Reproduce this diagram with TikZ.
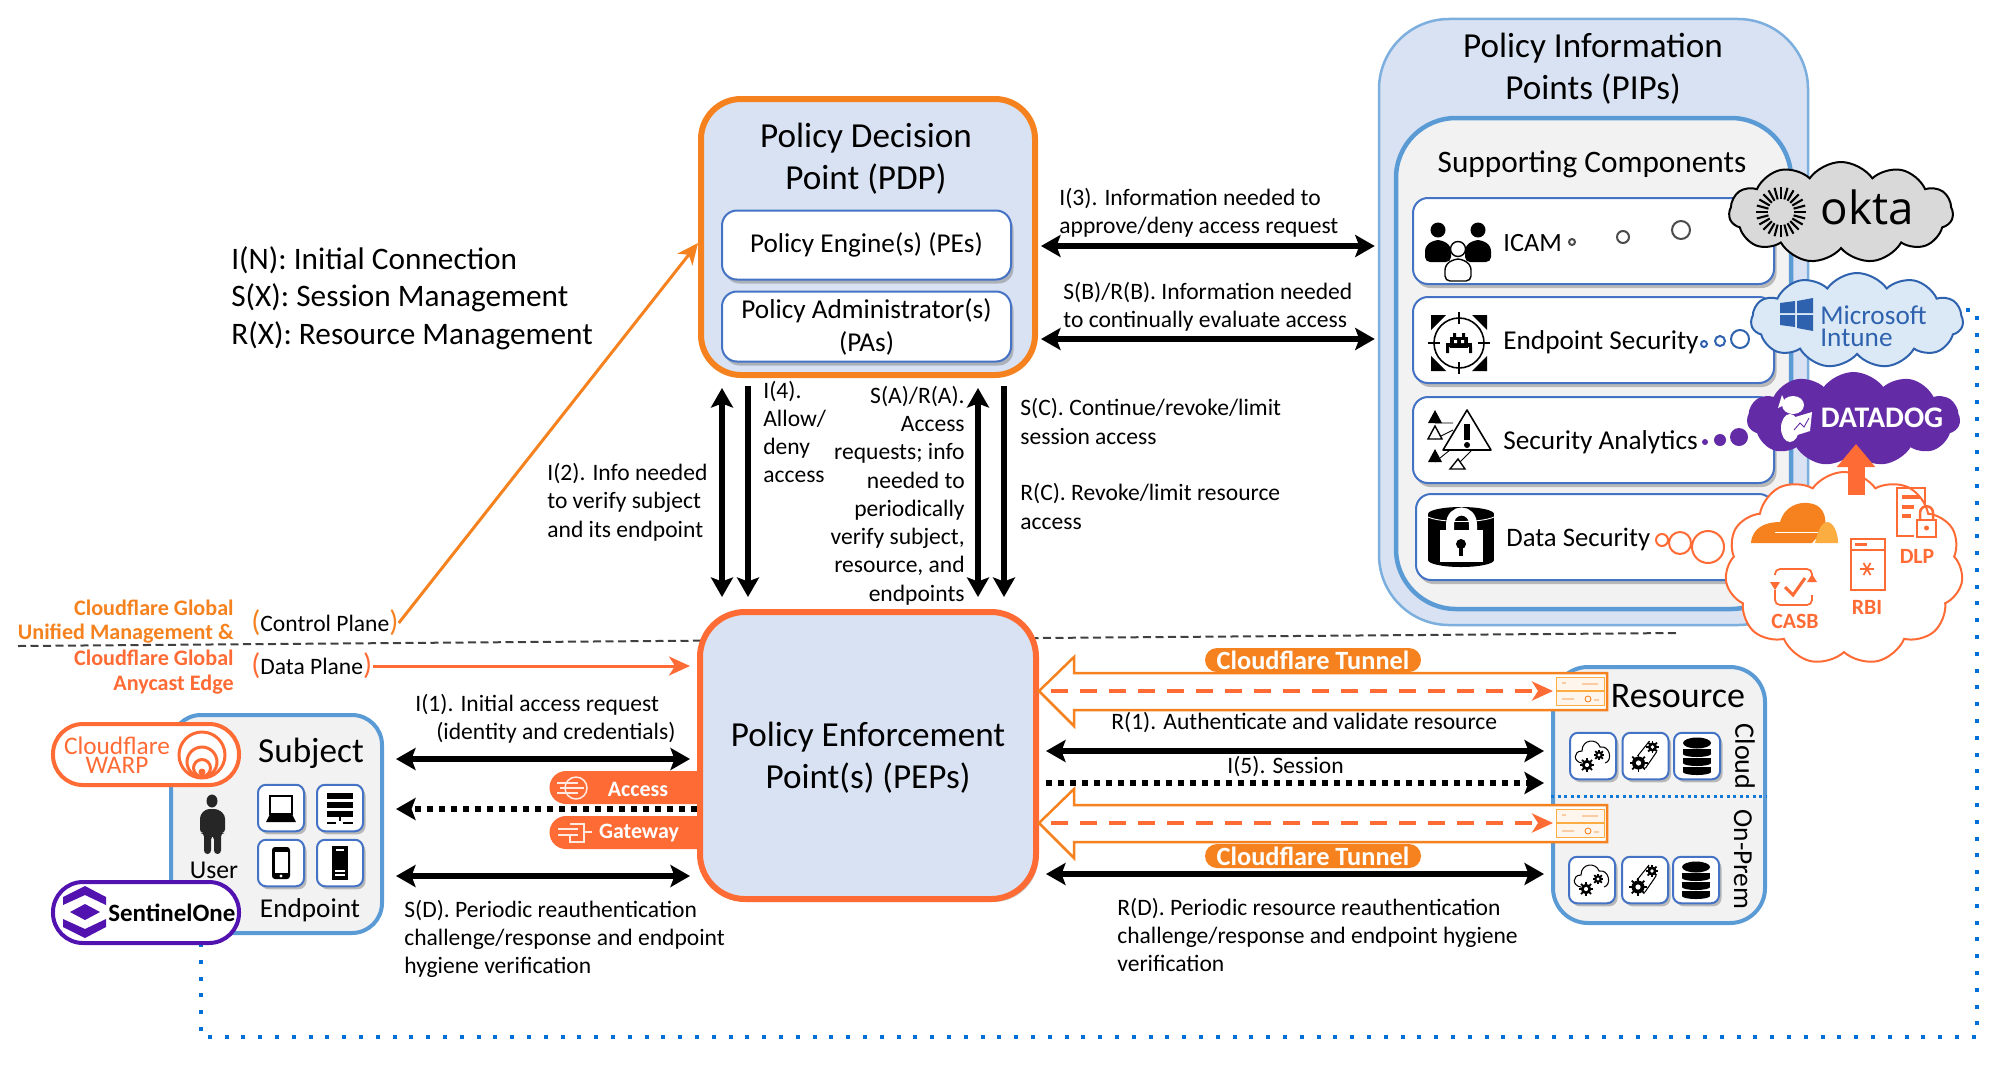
\documentclass[tikz,border=0pt]{standalone}
\usepackage{fontspec}
\setmainfont{Carlito}
\newfontfamily\logofont{Open Sans}
\usetikzlibrary{arrows.meta,shapes.symbols,shadows}

\definecolor{cfamber}{HTML}{F5821F}
\definecolor{cfred}{HTML}{FF6B35}
\definecolor{cflight}{HTML}{FBAD41}
\definecolor{panel}{HTML}{D9E2F3}
\definecolor{soft}{HTML}{F2F2F2}
\definecolor{edgeblue}{HTML}{5B9BD5}
\definecolor{tileblue}{HTML}{4472C4}
\definecolor{dotblue}{HTML}{0070D8}
\definecolor{ddpurple}{HTML}{632CA6}
\definecolor{s1purple}{HTML}{5212B0}
\definecolor{msblue}{HTML}{2F62AE}

\tikzset{
    txt/.style={font=\fontsize{13.4}{16.1}\selectfont, align=left, inner sep=0pt, yshift=-0.2mm},
    txtr/.style={txt, align=right, anchor=east},
    txtl/.style={txt, anchor=west},
    title/.style={font=\fontsize{20}{24}\selectfont, align=center, inner sep=0pt, yshift=-0.3mm},
    sub/.style={font=\fontsize{15.5}{18.8}\selectfont, align=center, inner sep=0pt, yshift=-0.3mm},
    rowtxt/.style={font=\fontsize{15.5}{18}\selectfont, inner sep=0pt, anchor=west, yshift=-0.3mm},
    svctxt/.style={font=\fontsize{12.4}{14}\selectfont\bfseries, text=cfred, inner sep=0pt},
    cftxt/.style={font=\fontsize{12.6}{14}\selectfont\bfseries, align=right, anchor=east, inner sep=0pt, yshift=-0.5mm},
    box/.style={rectangle, draw, inner sep=0pt},
    row/.style={box, draw=tileblue, fill=white, line width=0.4mm, rounded corners=3mm,
        minimum height=17.2mm, drop shadow={shadow xshift=0.5mm, shadow yshift=-0.8mm, opacity=0.5}},
    tile/.style={box, draw=tileblue, fill=white, line width=0.4mm, rounded corners=1.6mm,
        minimum width=9.2mm, minimum height=9.3mm, drop shadow={shadow xshift=0.5mm, shadow yshift=-0.6mm, opacity=0.5}},
    pill/.style={box, fill=cfamber, draw=none, rounded corners=2.4mm, text=white,
        font=\fontsize{15}{16}\selectfont\bfseries, minimum width=43.2mm, minimum height=4.8mm},
    badge/.style={box, fill=cfred, draw=none, rounded corners=3.3mm, minimum width=33mm, minimum height=6.6mm},
    badgetxt/.style={font=\fontsize{12.5}{14}\selectfont\bfseries, text=white, inner sep=0pt},
    logopill/.style={box, fill=white, line width=0.8mm, rounded corners=6mm, minimum width=37.2mm, minimum height=12.2mm},
    puff/.style={cloud, cloud puffs=11, cloud puff arc=110, cloud ignores aspect, draw, inner sep=0pt},
    tip/.style={-{Stealth[length=3.9mm,width=4.4mm,inset=0.8mm]}},
    bothway/.style={line width=1.1mm, {Stealth[length=3.9mm,width=4.4mm,inset=0.8mm]}-{Stealth[length=3.9mm,width=4.4mm,inset=0.8mm]}},
    oneway/.style={line width=1.1mm, tip},
    dotted line/.style={dash pattern=on 1.2mm off 1.2mm},
    cfarrow/.style={line width=0.6mm, -{Stealth[length=4.2mm,width=3.8mm,inset=1.2mm]}},
    % icons, px units around their centre
    bust/.pic={
        \path[pic actions] (0,-15) circle (7.5);
        \path[pic actions, rounded corners=1mm] (-13,17) -- (-13,1) -- (-4,-5) -- (4,-5) -- (13,1) -- (13,17) -- cycle;
    },
    gear/.pic={
        \foreach \a in {0,45,...,315} \draw[line width=1pt] (\a:4) -- (\a:9);
        \fill (0,0) circle (6.5);
        \fill[white] (0,0) circle (2.6);
    },
    cloudgear/.pic={
        \draw[line width=0.6pt] (-11,7) .. controls (-20,6) and (-20,-5) .. (-11,-5) .. controls (-11,-17) and (4,-18) .. (7,-9) .. controls (17,-11) and (20,5) .. (12,7);
        \pic[scale=0.8] at (-6,9) {gear};
        \pic[scale=0.6] at (6,-1) {gear};
    },
    gearpair/.pic={
        \draw[line width=0.6pt] (-8,0) -- (4,-15) (0,12) -- (11,-4);
        \pic at (-7,7) {gear};
        \pic[scale=0.7] at (7,-9) {gear};
    },
    dbstack/.pic={
        \fill (0,-13) ellipse (14 and 5.5);
        \foreach \y in {-7,2,11} {
            \fill (-14,\y) rectangle (14,\y+5);
            \fill (0,\y+5) ellipse (14 and 3);
        }
    },
    laptop/.pic={
        \draw[line width=0.9pt] (-11,-12) rectangle (11,6);
        \fill (-11,6) -- (11,6) -- (15,14) -- (-15,14) -- cycle;
    },
    rack/.pic={
        \foreach \y in {-15,-6,3} \fill (-13,\y) rectangle (13,\y+6);
        \fill (-1,9) rectangle (1,13);
        \draw[line width=0.9pt] (-13,15) -- (-4,15) (3,15) -- (13,15);
    },
    phone/.pic={
        \fill[rounded corners=0.6mm] (-9,-16) rectangle (9,16);
        \fill[white] (-6.5,-11) rectangle (6.5,10);
        \fill[white] (0,13) circle (1.6);
    },
    tower/.pic={
        \fill (-8,-17) rectangle (8,17);
        \draw[white, line width=0.6pt] (-4,-13) -- (4,-13) (-5,8) -- (5,8) (-5,12) -- (5,12);
    },
    conn/.pic={
        \draw[cflight, fill=cfamber!8, line width=0.5pt] (-24,-14) rectangle (24,-1);
        \draw[cflight, fill=cfamber!8, line width=0.5pt] (-24,0) rectangle (24,14);
        \draw[cfamber, line width=0.5pt] (-18,-8) -- (-14,-8) (2,-7) -- (18,-7) (-18,8) -- (-6,8) (8,8) circle (3) (14,9) -- (19,9);
    },
    tunnelbody/.pic={
        \draw[cfamber, fill=white, line width=0.5mm, line join=miter] (0,0) -- (35,-34) -- (35,-18) -- (568,-18) -- (568,19) -- (35,19) -- (35,35) -- cycle;
    },
}

\begin{document}
\begin{tikzpicture}[x=0.2mm, y=-0.2mm]
    \useasboundingbox (0,0) rectangle (1999,1069);

    % Plane divider
    \coordinate (divw) at (18,646);
    \coordinate (dive) at (1677,633);
    \draw[black!75, line width=0.4mm, dash pattern=on 1.6mm off 0.9mm] (divw) -- (dive);

    % Policy Information Points
    \node[box, draw=edgeblue!80, fill=panel, line width=0.5mm, rounded corners=14mm, minimum width=85.8mm, minimum height=121.2mm] (pip) at (1593.5,322) {};
    \node[box, draw=edgeblue, fill=soft, line width=0.9mm, rounded corners=12mm, minimum width=79mm, minimum height=98.2mm] (support) at (1593.5,363.5) {};
    \node[title] (piptitle) at (1593,67) {Policy Information\\Points (PIPs)};
    \node[font=\fontsize{17.8}{20}\selectfont, inner sep=0pt, yshift=-0.3mm] (supporttitle) at (1592,163) {Supporting Components};

    \node[row, minimum width=72.2mm] (icam) at (1593.5,241) {};
    \node[row, minimum width=72.2mm] (endsec) at (1593.5,340) {};
    \node[row, minimum width=72.2mm] (secan) at (1593.5,440) {};
    \node[row, minimum width=71.6mm] (datasec) at (1595,537) {};

    \node[rowtxt, font=\fontsize{15}{18}\selectfont] (icamtxt) at (1503,242) {ICAM};
    \node[rowtxt] (endsectxt) at (1503,341) {Endpoint Security};
    \node[rowtxt] (secantxt) at (1503,441) {Security Analytics};
    \node[rowtxt, font=\fontsize{15.2}{18}\selectfont] (datasectxt) at (1506,538) {Data Security};

    % ICAM icon
    \begin{scope}[shift={(1458,252)}]
        \pic[fill=black] at (-20,-7) {bust};
        \pic[fill=black] at (20,-7) {bust};
        \pic[draw=black, fill=white, line width=0.8pt] at (0,12) {bust};
    \end{scope}

    % Endpoint security icon
    \begin{scope}[shift={(1459,343)}]
        \fill (-28,-28) -- (-13,-28) -- (-28,-13) -- cycle;
        \fill (28,-28) -- (13,-28) -- (28,-13) -- cycle;
        \fill (-28,28) -- (-13,28) -- (-28,13) -- cycle;
        \fill (28,28) -- (13,28) -- (28,13) -- cycle;
        \draw[line width=0.9pt] (0,0) circle (25);
        \draw[line width=0.9pt] (-31,0) -- (-19,0) (19,0) -- (31,0) (0,-31) -- (0,-19) (0,19) -- (0,31);
        \fill (-9,-6) rectangle (9,5);
        \fill (-13,0) rectangle (13,4);
        \fill (-13,4) rectangle (-10,10) (10,4) rectangle (13,10) (-6,-10) rectangle (-3,-6) (3,-10) rectangle (6,-6);
        \fill[white] (-5,-3) rectangle (-2,0) (2,-3) rectangle (5,0);
    \end{scope}

    % Security analytics icon
    \begin{scope}[shift={(1458,440)}]
        \draw[line width=0.5pt] (-23,-17) -- (-5,-17) (-23,-1) -- (-5,-10) (-23,22) -- (-8,10) (0,24) -- (14,10);
        \fill (-30,-17) -- (-23,-30) -- (-16,-17) -- cycle;
        \draw[fill=white, line width=0.8pt] (-30,-1) -- (-23,-14) -- (-16,-1) -- cycle;
        \fill (-30,22) -- (-23,9) -- (-16,22) -- cycle;
        \draw[fill=white, line width=0.8pt] (-8,29) -- (0,19) -- (7,29) -- cycle;
        \draw[fill=white, line width=0.9pt, line join=round] (-15,10) -- (9,-30) -- (33,10) -- cycle;
        \fill (6,-16) rectangle (12,0);
        \fill (9,5) circle (3);
    \end{scope}

    % Data security icon
    \begin{scope}[shift={(1461,537)}]
        \fill (0,-23) ellipse (33 and 7);
        \fill (-33,-23) rectangle (33,23);
        \fill (0,23) ellipse (33 and 7);
        \draw[white, line width=0.5pt] (-33,-20) .. controls (-20,-14) and (20,-14) .. (33,-20);
        \draw[white, line width=1.6mm] (-11,-6) -- (-11,-12) .. controls (-11,-30) and (12,-30) .. (12,-12) -- (12,-6);
        \fill[white] (-21,-7) rectangle (22,25);
        \fill (0,7) circle (5);
        \fill (-1.8,7) rectangle (1.8,19);
    \end{scope}

    % Vendor clouds
    \draw[dotblue, line width=0.8mm, dash pattern=on 0.8mm off 2.56mm]
        (201,943) coordinate (dotstart) -- (201,1037) coordinate (dotsw) -- (1977,1037) coordinate (dotse) -- (1977,310) coordinate (dotne) -- (1960,310) coordinate (dotend);

    \node[puff, draw=black, fill=black!15, line width=0.4mm, minimum width=44.8mm, minimum height=20.2mm] (okta) at (1841,212.5) {};
    \foreach \a in {0,15,...,345} \draw[line width=1.2pt] (1781,212) ++(\a:13) -- ++(\a:12);
    \node[font=\logofont\fontsize{26}{26}\selectfont, text=black, inner sep=0pt] (oktatxt) at (1867,207) {okta};

    \node[puff, draw=msblue, fill=edgeblue!22, line width=0.4mm, minimum width=42.4mm, minimum height=19mm] (intune) at (1857,320.5) {};
    \fill[msblue] (1780,303) -- (1795,301) -- (1795,313) -- (1780,313) -- cycle;
    \fill[msblue] (1797,301) -- (1813,298) -- (1813,313) -- (1797,313) -- cycle;
    \fill[msblue] (1780,315) -- (1795,315) -- (1795,327) -- (1780,325) -- cycle;
    \fill[msblue] (1797,315) -- (1813,315) -- (1813,331) -- (1797,328) -- cycle;
    \node[font=\fontsize{15.5}{12.5}\selectfont, text=msblue, align=left, inner sep=0pt, anchor=west] (intunetxt) at (1820,326) {Microsoft\\ Intune};

    \node[puff, draw=ddpurple, fill=ddpurple, line width=0.4mm, minimum width=42.2mm, minimum height=18.4mm] (datadog) at (1853.5,419) {};
    \fill[white] (1793,405) ellipse (11 and 9);
    \fill[white] (1782,395) -- (1786,404) -- (1778,408) -- cycle;
    \fill[white] (1790,428) ellipse (9 and 14);
    \fill[white] (1792,418) -- (1812,412) -- (1810,431) -- (1794,436) -- cycle;
    \draw[ddpurple, line width=0.5pt] (1794,430) -- (1800,423) -- (1804,427) -- (1809,418);
    \node[font=\fontsize{17}{17}\selectfont\bfseries, text=white, inner sep=0pt] (ddtxt) at (1882,418) {DATADOG};

    \node[puff, draw=cfred, fill=white, line width=0.4mm, minimum width=47.6mm, minimum height=38.6mm] (cfcloud) at (1844,568.5) {};

    % Bubbles from the rows to the clouds
    \draw[line width=0.4mm, black!70, fill=white] (1572,242) circle (3) (1623,237) circle (6) (1681,230) circle (9);
    \draw[line width=0.4mm, msblue, fill=white] (1704,344) circle (3) (1720,341) circle (5) (1740,339) circle (9);
    \fill[ddpurple] (1705,442) circle (3) (1720,440) circle (6) (1739,437) circle (9);
    \draw[line width=0.4mm, cfred, fill=white] (1662,540) circle (6) (1680,543) circle (11) (1708,547) circle (16);

    % Cloudflare services
    \fill[cfamber] (1751,543) .. controls (1752,528) and (1765,522) .. (1780,522) .. controls (1785,505) and (1800,502) .. (1808,503) .. controls (1822,504) and (1827,515) .. (1825,528) -- (1812,543) -- cycle;
    \fill[cflight] (1815,543) .. controls (1818,530) and (1822,522) .. (1827,522) .. controls (1833,522) and (1838,532) .. (1838,543) -- cycle;
    \draw[white, line width=0.5pt] (1775,532) -- (1818,532);
    \begin{scope}[cfred, line width=0.35mm]
        \draw[rounded corners=1mm] (1775,575) -- (1775,569) -- (1812,569) -- (1812,582);
        \draw[rounded corners=1mm] (1812,595) -- (1812,605) -- (1775,605) -- (1775,590);
        \fill (1770,582) -- (1780,582) -- (1775,590) -- cycle;
        \fill (1807,582) -- (1817,582) -- (1812,574) -- cycle;
        \draw[line width=0.6mm] (1785,587) -- (1793,595) -- (1805,578);
        \draw[line width=0.5mm] (1851,539) rectangle (1885,590);
        \draw[line width=0.5mm] (1851,550) -- (1885,550);
        \fill (1855,543) rectangle (1867,546);
        \foreach \a in {0,60,120} \draw (1867,569) ++(\a:7) -- ++(\a+180:14);
        \draw[line width=0.5mm] (1925,508) -- (1925,488) -- (1897,488) -- (1897,536) -- (1914,536);
        \draw[line width=0.7mm] (1902,497) -- (1920,497) (1902,507) -- (1914,507) (1902,516) -- (1911,516);
        \draw[line width=0.5mm, fill=white] (1917,520) rectangle (1936,537);
        \fill (1926.5,528) circle (2.5);
        \draw[line width=0.5mm] (1920,520) -- (1920,513) .. controls (1920,504) and (1933,504) .. (1933,513) -- (1933,520);
    \end{scope}
    \node[svctxt] (casb) at (1795,621) {CASB};
    \node[svctxt] (rbi) at (1867,607) {RBI};
    \node[svctxt] (dlp) at (1917,556) {DLP};
    \coordinate (upfoot) at (1856,495);
    \coordinate (uptop) at (1856,444);
    \draw[cfred, line width=3.4mm, -{Triangle[length=4.6mm,width=7.4mm]}] (upfoot) -- (uptop);

    % Policy Decision Point
    \node[box, draw=cfamber, fill=panel, line width=1.2mm, rounded corners=8mm, minimum width=66.8mm, minimum height=55.2mm,
        drop shadow={shadow xshift=0.4mm, shadow yshift=-0.4mm, opacity=0.3}] (pdp) at (868,237) {};
    \node[title] (pdptitle) at (866,157) {Policy Decision\\Point (PDP)};
    \node[row, sub, minimum width=57.8mm, minimum height=13.8mm] (pe) at (866.5,243.5) {Policy Engine(s) (PEs)};
    \node[row, sub, minimum width=57.8mm, minimum height=14mm] (pa) at (866.5,325) {Policy Administrator(s)\\(PAs)};

    % Access and gateway badges sit behind the enforcement point
    \node[badge] (access) at (632,787.5) {};
    \node[badge] (gateway) at (632,832.5) {};
    \node[badgetxt] (accesstxt) at (638,789) {Access};
    \node[badgetxt] (gatewaytxt) at (639,833) {Gateway};
    \begin{scope}[white!85!cfred, line width=0.3mm]
        \draw (576,788) circle (11);
        \draw (557,783) -- (578,783) (560,788) -- (584,788) (557,793) -- (578,793);
        \draw (570,824) -- (584,824) -- (584,842) -- (570,842) -- (570,835);
        \draw (558,829) -- (578,829) (558,835) -- (578,835) (584,832) -- (592,832);
    \end{scope}

    % Policy Enforcement Point
    \node[box, draw=cfred, fill=panel, line width=1.2mm, rounded corners=9mm, minimum width=67.2mm, minimum height=57.4mm,
        drop shadow={shadow xshift=0.5mm, shadow yshift=-0.6mm, opacity=0.4}] (pep) at (868,755.5) {};
    \node[title] (peptitle) at (868,756) {Policy Enforcement\\Point(s) (PEPs)};

    % Subject
    \node[box, draw=edgeblue, fill=soft, line width=0.8mm, rounded corners=6mm, minimum width=42.2mm, minimum height=43.6mm] (subject) at (276.5,824) {};
    \node[title] (subjecttxt) at (311,752) {Subject};
    \node[sub, font=\fontsize{14.6}{18}\selectfont] (usertxt) at (214,869) {User};
    \node[sub] (endpointtxt) at (310,909) {Endpoint};
    \fill[black!85] (212,801) ellipse (5.5 and 6.5);
    \fill[black!85, rounded corners=0.7mm] (200,833) -- (200,815) -- (206,809) -- (218,809) -- (225,815) -- (225,833) -- (221,833) -- (221,854) -- (214,854) -- (214,836) -- (211,836) -- (211,854) -- (204,854) -- (204,833) -- cycle;
    \node[tile] (laptoptile) at (281,808) {};
    \node[tile] (racktile) at (340,808) {};
    \node[tile] (phonetile) at (281,863) {};
    \node[tile] (towertile) at (340,863) {};
    \pic at (281,808) {laptop};
    \pic at (340,808) {rack};
    \pic at (281,863) {phone};
    \pic at (340,863) {tower};

    \node[logopill, draw=cfred] (warp) at (146,754.5) {};
    \node[font=\fontsize{14.4}{11}\selectfont, text=cfred, align=center, inner sep=0pt] (warptxt) at (117,755) {Cloudflare\\WARP};
    \draw[cfred, fill=white, line width=0.6mm] (202,755) circle (23);
    \draw[cfred, fill=white, line width=0.6mm] (202,762) circle (15);
    \draw[cfred, fill=white, line width=0.6mm] (202,768) circle (8.5);
    \fill[cfred] (202,772) circle (3.5);

    \node[logopill, draw=s1purple] (sentinel) at (146,912.5) {};
    \node[font=\fontsize{14.2}{18}\selectfont\bfseries, inner sep=0pt, anchor=west] (sentineltxt) at (108,913) {SentinelOne};
    \fill[s1purple] (63,905) -- (63,897) -- (85,886) -- (106,897) -- (106,905) -- (85,895) -- cycle;
    \fill[s1purple] (70,912) -- (85,904) -- (100,912) -- (85,920) -- cycle;
    \fill[s1purple] (63,919) -- (63,927) -- (85,938) -- (106,927) -- (106,919) -- (85,929) -- cycle;

    % Resource
    \node[box, draw=edgeblue, fill=soft, line width=0.8mm, rounded corners=7mm, minimum width=42.4mm, minimum height=51.2mm] (resource) at (1659,795) {};
    \node[title, font=\fontsize{20.5}{22}\selectfont] (resourcetxt) at (1678,695) {Resource};
    \node[sub, font=\fontsize{16}{18}\selectfont, rotate=-90] (cloudtxt) at (1745,755) {Cloud};
    \node[sub, font=\fontsize{15.6}{18}\selectfont, rotate=-90] (onpremtxt) at (1743,858) {On-Prem};
    \draw[dotblue!80!edgeblue, line width=0.6mm, dash pattern=on 0.6mm off 0.7mm] (resource.west |- 0,796) -- (resource.east |- 0,796);
    \node[tile] (cloudgearA) at (1593,756) {};
    \node[tile] (gearpairA) at (1645.5,756) {};
    \node[tile] (dbA) at (1697,756) {};
    \node[tile] (cloudgearB) at (1592,880) {};
    \node[tile] (gearpairB) at (1645,880) {};
    \node[tile] (dbB) at (1696,880) {};
    \pic at (1593,756) {cloudgear};
    \pic at (1645.5,756) {gearpair};
    \pic at (1697,756) {dbstack};
    \pic at (1592,880) {cloudgear};
    \pic at (1645,880) {gearpair};
    \pic at (1696,880) {dbstack};

    % Tunnels
    \pic at (1039,691) {tunnelbody};
    \pic at (1039,823) {tunnelbody};
    \node[pill] (tunneltop) at (1313,660) {Cloudflare Tunnel};
    \node[pill] (tunnelbot) at (1313,856) {Cloudflare Tunnel};
    \pic at (1580,691) {conn};
    \pic at (1580,823) {conn};
    \coordinate (tunnelA) at (1051,691);
    \coordinate (connA) at (1553,691);
    \coordinate (tunnelB) at (1051,823);
    \coordinate (connB) at (1553,823);
    \draw[cfred, cfarrow, line width=0.8mm, dash pattern=on 3.4mm off 2.4mm] (tunnelA) -- (connA);
    \draw[cfred, cfarrow, line width=0.8mm, dash pattern=on 3.4mm off 2.4mm] (tunnelB) -- (connB);

    % Vertical flows
    \coordinate (vA) at (722,0);
    \coordinate (vB) at (748,0);
    \coordinate (vC) at (978,0);
    \coordinate (vD) at (1004,0);
    \draw[bothway, shorten <=2mm, shorten >=2.4mm] (pdp.south -| vA) -- (pep.north -| vA);
    \draw[oneway, shorten <=1.6mm, shorten >=2.4mm] (pdp.south -| vB) -- (pep.north -| vB);
    \draw[bothway, shorten <=2mm, shorten >=2.4mm] (pdp.south -| vC) -- (pep.north -| vC);
    \draw[oneway, shorten <=1.6mm, shorten >=2.4mm] (pdp.south -| vD) -- (pep.north -| vD);

    % Horizontal flows
    \coordinate (hI3) at (0,246);
    \coordinate (hSB) at (0,339);
    \coordinate (hI1) at (0,759);
    \coordinate (hDot) at (0,809);
    \coordinate (hSD) at (0,876);
    \coordinate (hR1) at (0,751);
    \coordinate (hI5) at (0,783);
    \coordinate (hRD) at (0,874);
    \draw[bothway, shorten <=0.6mm, shorten >=0.6mm] (pdp.east |- hI3) -- (pip.west |- hI3);
    \draw[bothway, shorten <=0.6mm, shorten >=0.6mm] (pdp.east |- hSB) -- (pip.west |- hSB);
    \draw[bothway, shorten <=2.4mm, shorten >=1.4mm] (subject.east |- hI1) -- (pep.west |- hI1);
    \draw[oneway, dotted line, shorten >=2.4mm] (pep.west |- hDot) -- (subject.east |- hDot);
    \draw[bothway, shorten <=2.4mm, shorten >=1.4mm] (subject.east |- hSD) -- (pep.west |- hSD);
    \draw[bothway, shorten <=1.4mm, shorten >=1.4mm] (pep.east |- hR1) -- (resource.west |- hR1);
    \draw[oneway, dotted line, shorten <=1.4mm, shorten >=1.4mm] (pep.east |- hI5) -- (resource.west |- hI5);
    \draw[bothway, shorten <=1.4mm, shorten >=1.4mm] (pep.east |- hRD) -- (resource.west |- hRD);

    % Flow labels
    \node[txtl] (lblI3) at (1059,212) {I(3). Information needed to\\approve/deny access request};
    \node[txtl] (lblSB) at (1063,305.5) {S(B)/R(B). Information needed\\to continually evaluate access};
    \node[txtl] (lblI4) at (763,431) {I(4).\\Allow/\\deny\\access};
    \node[txtr] (lblSA) at (965,494.5) {S(A)/R(A).\\Access\\requests; info\\needed to\\periodically\\verify subject,\\resource, and\\endpoints};
    \node[txtl] (lblSC) at (1020,420.5) {S(C). Continue/revoke/limit\\session access};
    \node[txtl] (lblRC) at (1020,505.5) {R(C). Revoke/limit resource\\access};
    \node[txtl] (lblI2) at (547,501) {I(2). Info needed\\to verify subject\\and its endpoint};
    \node[txtl] (lblI1a) at (415,704) {I(1). Initial access request};
    \node[txtl] (lblI1b) at (436,732) {(identity and credentials)};
    \node[txtl] (lblSD) at (404,938) {S(D). Periodic reauthentication\\challenge/response and endpoint\\hygiene verification};
    \node[txtl] (lblR1) at (1111,722) {R(1). Authenticate and validate resource};
    \node[txtl] (lblI5) at (1227,766) {I(5). Session};
    \node[txtl] (lblRD) at (1117,934) {R(D). Periodic resource reauthentication\\challenge/response and endpoint hygiene\\verification};

    % Legend
    \node[font=\fontsize{17.8}{21.3}\selectfont, align=left, inner sep=0pt, anchor=west, yshift=-0.4mm] (legend) at (231,296) {I(N): Initial Connection\\S(X): Session Management\\R(X): Resource Management};

    % Planes
    \node[cftxt, text=cfamber] (cfctrl) at (234,619) {Cloudflare Global\\Unified Management \&};
    \node[cftxt, text=cfred] (cfdata) at (234,669.5) {Cloudflare Global\\Anycast Edge};
    \node[txtl] (ctrl) at (251,622) {\textcolor{cfamber}{\fontsize{17}{16}\selectfont(}Control Plane\textcolor{cfamber}{\fontsize{17}{16}\selectfont)}};
    \node[txtl] (data) at (251,665) {\textcolor{cfred}{\fontsize{17}{16}\selectfont(}Data Plane\textcolor{cfred}{\fontsize{17}{16}\selectfont)}};
    \draw[cfamber, cfarrow] (ctrl.east) -- ([yshift=-1.2mm]pdp.west);
    \draw[cfred, cfarrow, shorten >=1.4mm] (data.east) -- (pep.west |- data.east);
\end{tikzpicture}
\end{document}
